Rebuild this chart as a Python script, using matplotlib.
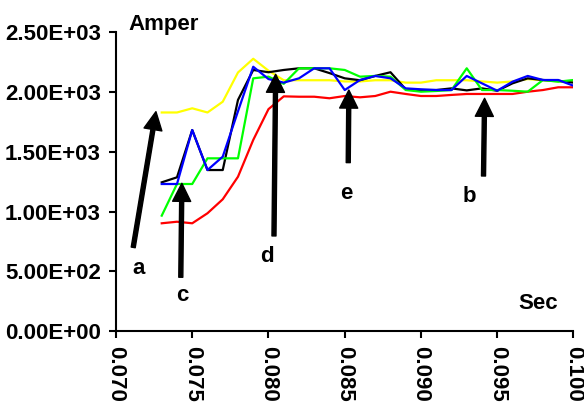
import matplotlib
matplotlib.use("Agg")
import matplotlib.pyplot as plt
from matplotlib.ticker import FuncFormatter, MultipleLocator

plt.rcParams["font.family"] = ["Liberation Sans", "DejaVu Sans"]
plt.rcParams["font.weight"] = "bold"

# time axis (s) and current traces (A)
t = [0.073, 0.074, 0.075, 0.076, 0.077, 0.078, 0.079, 0.080, 0.081, 0.082,
     0.083, 0.084, 0.085, 0.086, 0.087, 0.088, 0.089, 0.090, 0.091, 0.092,
     0.093, 0.094, 0.095, 0.096, 0.097, 0.098, 0.099, 0.100]
yellow = [1830, 1830, 1865, 1830, 1920, 2165, 2280, 2180, 2100, 2100,
          2100, 2100, 2090, 2090, 2100, 2100, 2080, 2080, 2100, 2100,
          2100, 2090, 2080, 2090, 2110, 2100, 2090, 2090]
red = [902, 915, 902, 986, 1103, 1292, 1600, 1858, 1965, 1962,
       1962, 1949, 1968, 1957, 1968, 2004, 1985, 1968, 1968, 1977,
       1985, 1985, 1985, 1985, 2004, 2018, 2041, 2041]
black = [1245, 1287, 1683, 1348, 1348, 1935, 2186, 2167, 2186, 2200,
         2200, 2160, 2116, 2100, 2136, 2167, 2024, 2018, 2018, 2032,
         2015, 2032, 2012, 2074, 2116, 2102, 2096, 2080]
green = [966, 1231, 1231, 1446, 1446, 1446, 2116, 2130, 2070, 2200,
         2200, 2200, 2186, 2130, 2136, 2130, 2018, 2004, 2010, 2018,
         2200, 2018, 2018, 2012, 2004, 2102, 2088, 2102]
blue = [1231, 1231, 1683, 1348, 1460, 1840, 2213, 2110, 2080, 2116,
        2200, 2200, 2018, 2102, 2136, 2116, 2032, 2024, 2018, 2018,
        2136, 2074, 2012, 2088, 2136, 2102, 2102, 2054]

# event markers: label, tail (t, A), head (t, A), label position (t, A)
marks = [
    ("a", (0.07113, 700), (0.07262, 1837), (0.0715, 520)),
    ("c", (0.07425, 450), (0.07432, 1237), (0.07437, 300)),
    ("d", (0.08036, 796), (0.08047, 2150), (0.07993, 620)),
    ("e", (0.08523, 1410), (0.08527, 2018), (0.0851, 1150)),
    ("b", (0.09410, 1298), (0.09417, 1949), (0.09319, 1130)),
]

fig = plt.figure(figsize=(5.84, 4.03), dpi=100)
ax = fig.add_axes([0.1986, 0.1787, 0.7834, 0.7407])

ax.plot(t, yellow, color="#FFFF00", lw=1.6)
ax.plot(t, red, color="#FF0000", lw=1.6)
ax.plot(t, black, color="#000000", lw=1.6)
ax.plot(t, green, color="#00FF00", lw=1.6)
ax.plot(t, blue, color="#0000FF", lw=1.6)

for lab, tail, head, pos in marks:
    ax.annotate("", xy=head, xytext=tail,
                arrowprops=dict(width=2.9, headwidth=13, headlength=13,
                                facecolor="black", edgecolor="black",
                                shrink=0))
    ax.text(pos[0], pos[1], lab, fontsize=16, fontweight="bold",
            ha="center", va="center")

ax.text(0.07079, 2521, "Amper", fontsize=16, fontweight="bold",
        ha="left", va="baseline", clip_on=False)
ax.text(0.09637, 184, "Sec", fontsize=16, fontweight="bold",
        ha="left", va="baseline")

ax.set_xlim(0.070, 0.100)
ax.set_ylim(0, 2500)
ax.xaxis.set_major_locator(MultipleLocator(0.005))
ax.yaxis.set_major_locator(MultipleLocator(500))
ax.xaxis.set_major_formatter(FuncFormatter(lambda v, p: f"{v:.3f}"))
ax.yaxis.set_major_formatter(FuncFormatter(lambda v, p: f"{v:.2E}"))

for side in ("top", "right"):
    ax.spines[side].set_visible(False)
for side in ("left", "bottom"):
    ax.spines[side].set_linewidth(1.5)
ax.tick_params(direction="out", length=5, width=1.5, labelsize=16)
ax.tick_params(axis="x", labelrotation=-90, pad=6)
ax.tick_params(axis="y", pad=6)
for lbl in ax.get_xticklabels() + ax.get_yticklabels():
    lbl.set_fontweight("bold")

fig.savefig("out.png", dpi=100)
